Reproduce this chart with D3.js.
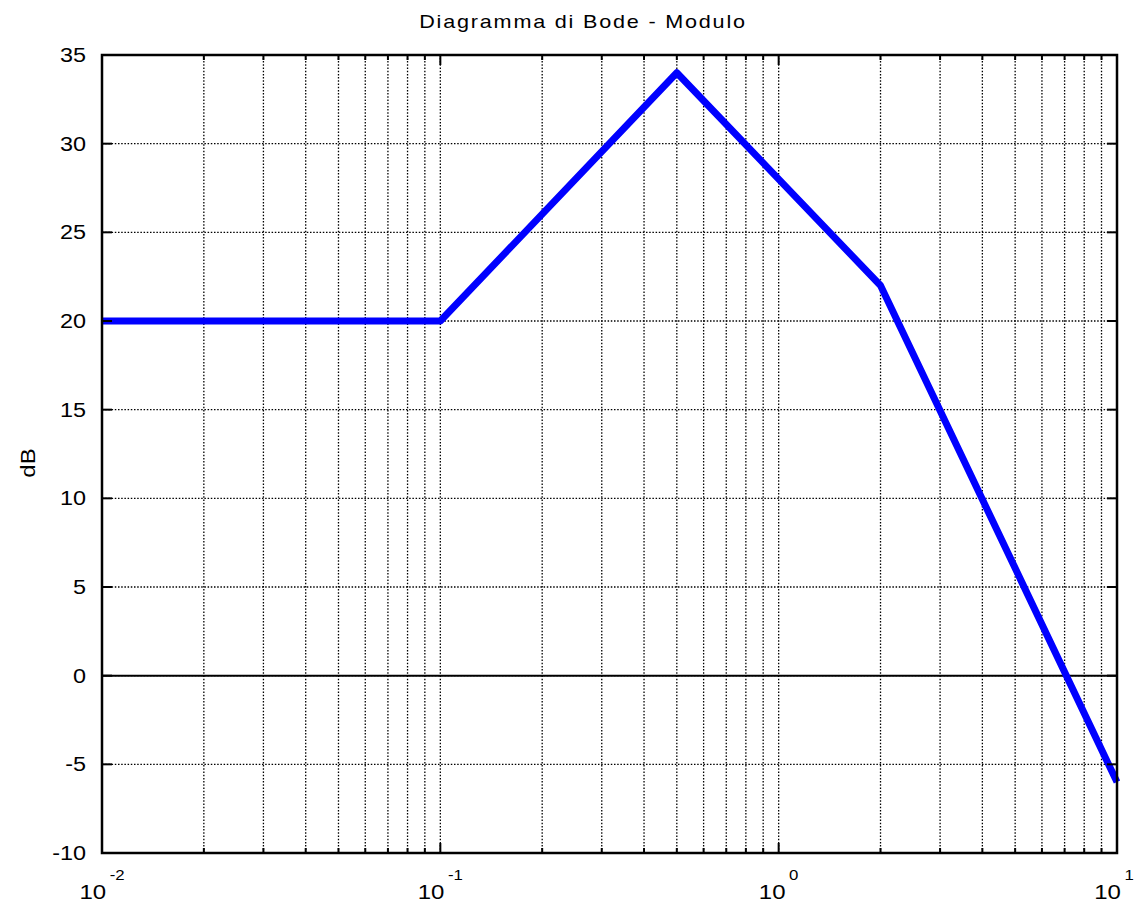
<!DOCTYPE html>
<html>
<head>
<meta charset="utf-8">
<script src="https://cdn.jsdelivr.net/npm/d3@7"></script>
<style>
  html, body { margin: 0; padding: 0; background: #fff; }
  svg { display: block; font-family: "Liberation Sans", Arial, sans-serif; }
</style>
</head>
<body>
<svg id="chart" width="1135" height="904"></svg>
<script>
// Asymptotic Bode magnitude: break frequencies (rad/s) and gain (dB)
const frequencies = [0.01, 0.1, 0.5, 2, 10];
const magnitudes  = [20, 20, 34, 22, -6];

const yTicks = [-10, -5, 0, 5, 10, 15, 20, 25, 30, 35];
const xDecades = [-2, -1, 0, 1];
const zeroLine = [0];

const titleText = "Diagramma di Bode - Modulo";
const yLabel = "dB";

const margin = { left: 102, right: 18, top: 55, bottom: 51 };
const W = 1135, H = 904;
const SX = 1.2; // horizontal stretch of the label glyphs

const svg = d3.select("#chart");

const x = d3.scaleLog().domain([0.01, 10]).range([margin.left, W - margin.right]);
const y = d3.scaleLinear().domain([-10, 35]).range([H - margin.bottom, margin.top]);

const x0 = x.range()[0], x1 = x.range()[1];
const y0 = y.range()[0], y1 = y.range()[1];

// every grid position on the log axis: 1..9 times each decade
const xGrid = [];
xDecades.forEach(e => {
  for (let m = 1; m <= 9; m++) {
    const v = m * Math.pow(10, e);
    if (v <= 10 + 1e-9) xGrid.push(v);
  }
});

// dotted grid
const grid = svg.append("g")
  .attr("stroke", "#000").attr("stroke-width", 1.3)
  .attr("stroke-dasharray", "1.5,1.7");
grid.selectAll("line.v").data(xGrid.filter(v => v > 0.01 && v < 10)).join("line")
  .attr("x1", d => x(d)).attr("x2", d => x(d)).attr("y1", y0).attr("y2", y1);
grid.selectAll("line.h").data(yTicks.filter(v => v > -10 && v < 35)).join("line")
  .attr("class", "h")
  .attr("x1", x0).attr("x2", x1).attr("y1", d => y(d)).attr("y2", d => y(d));

// zero reference line
svg.selectAll("line.zero").data(zeroLine).join("line")
  .attr("class", "zero")
  .attr("x1", x0).attr("x2", x1).attr("y1", d => y(d)).attr("y2", d => y(d))
  .attr("stroke", "#000").attr("stroke-width", 2);

// magnitude curve
const pts = frequencies.map((f, i) => [f, magnitudes[i]]);
svg.append("path")
  .datum(pts)
  .attr("fill", "none")
  .attr("stroke", "#0000ff")
  .attr("stroke-width", 7)
  .attr("stroke-linejoin", "round")
  .attr("d", d3.line().x(d => x(d[0])).y(d => y(d[1])));

// inward tick marks on all four sides
const ticks = svg.append("g").attr("stroke", "#000").attr("stroke-width", 2);
yTicks.forEach(v => {
  ticks.append("line").attr("x1", x0).attr("x2", x0 + 10).attr("y1", y(v)).attr("y2", y(v));
  ticks.append("line").attr("x1", x1).attr("x2", x1 - 10).attr("y1", y(v)).attr("y2", y(v));
});
xGrid.forEach(v => {
  const major = Math.abs(Math.log10(v) - Math.round(Math.log10(v))) < 1e-9;
  const len = major ? 10 : 5;
  ticks.append("line").attr("x1", x(v)).attr("x2", x(v)).attr("y1", y0).attr("y2", y0 - len);
  ticks.append("line").attr("x1", x(v)).attr("x2", x(v)).attr("y1", y1).attr("y2", y1 + len);
});

// axes box
svg.append("rect")
  .attr("x", x0).attr("y", y1).attr("width", x1 - x0).attr("height", y0 - y1)
  .attr("fill", "none").attr("stroke", "#000").attr("stroke-width", 2.5);

// y tick labels
svg.append("g").selectAll("g").data(yTicks).join("g")
  .attr("transform", d => `translate(${x0 - 16},${y(d)}) scale(${SX},1)`)
  .append("text")
  .attr("dy", "0.36em")
  .attr("text-anchor", "end").attr("font-size", 19.5).attr("fill", "#000")
  .text(d => d);

// x tick labels: 10 with exponent
const xl = svg.append("g").selectAll("g").data(xDecades).join("g")
  .attr("transform", d => `translate(${x(Math.pow(10, d)) + (d === 1 ? -3 : 0)},899) scale(${SX},1)`)
  .append("text")
  .attr("text-anchor", "middle").attr("fill", "#000");
xl.append("tspan").attr("font-size", 20).text("10");
xl.append("tspan").attr("font-size", 14).attr("dx", 3).attr("dy", -19).text(d => d);

// title and axis label
svg.append("g")
  .attr("transform", `translate(583,28) scale(${SX},1)`)
  .append("text")
  .attr("text-anchor", "middle")
  .attr("font-size", 18).attr("letter-spacing", 1.5).attr("fill", "#000")
  .text(titleText);

svg.append("g")
  .attr("transform", `translate(35,463) rotate(-90) scale(${SX},1)`)
  .append("text")
  .attr("text-anchor", "middle").attr("font-size", 20)
  .attr("fill", "#000")
  .text(yLabel);
</script>
</body>
</html>
